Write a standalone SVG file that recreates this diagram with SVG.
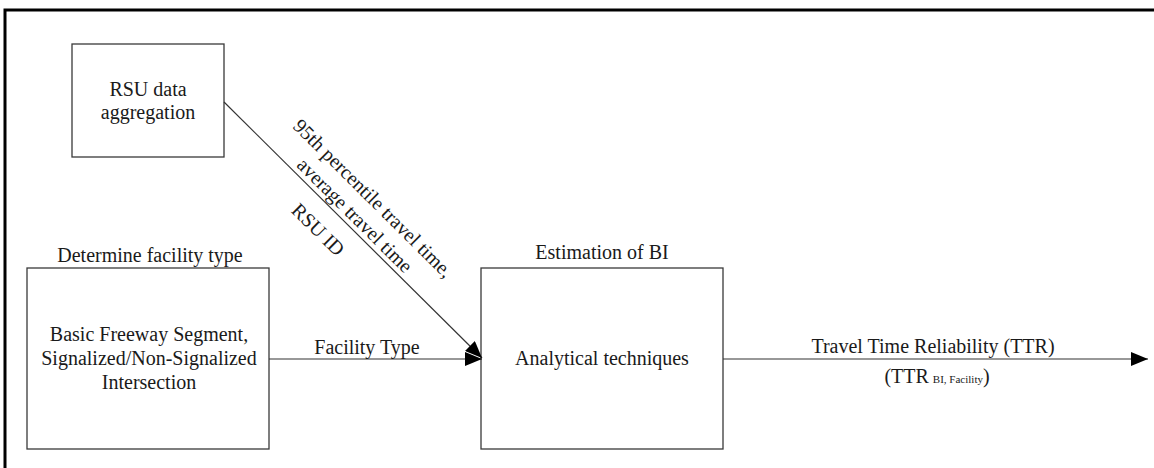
<svg xmlns="http://www.w3.org/2000/svg" width="1154" height="468" viewBox="0 0 1154 468" font-family="'Liberation Serif', 'Times New Roman', serif">
  <style>
    .box { fill: #ffffff; stroke: #3a3a3a; stroke-width: 1.3; }
    .conn { fill: none; stroke: #333333; stroke-width: 1.2; }
    text { font-family: "Liberation Serif", "Times New Roman", serif; }
    .t { font-family: "Liberation Serif", "Times New Roman", serif; font-size: 20px; fill: #1a1a1a; text-anchor: middle; }
    .sub { font-size: 11px; }
  </style>
  <defs>
    <marker id="arrow" markerUnits="userSpaceOnUse" markerWidth="18" markerHeight="14" refX="17" refY="7" orient="auto">
      <path d="M0,0 L17,7 L0,14 Z" fill="#000000"/>
    </marker>
  </defs>

  <rect x="0" y="0" width="1154" height="468" fill="#ffffff"/>
  <!-- outer frame, open to the right and bottom -->
  <path d="M5,470 L5,10 L1160,10" fill="none" stroke="#000000" stroke-width="3"/>

  <g id="node-rsu">
    <rect class="box" x="72" y="44" width="152" height="113"/>
    <text class="t" x="148" y="96">RSU data</text>
    <text class="t" x="148" y="119">aggregation</text>
  </g>

  <g id="node-facility">
    <text class="t" x="150" y="262">Determine facility type</text>
    <rect class="box" x="27" y="268" width="242" height="181"/>
    <text class="t" x="149" y="341">Basic Freeway Segment,</text>
    <text class="t" x="149" y="365">Signalized/Non-Signalized</text>
    <text class="t" x="149" y="389">Intersection</text>
  </g>

  <g id="node-bi">
    <text class="t" x="602" y="259">Estimation of BI</text>
    <rect class="box" x="481" y="268" width="242" height="181"/>
    <text class="t" x="602" y="365">Analytical techniques</text>
  </g>

  <g id="connectors">
    <line class="conn" x1="224" y1="102" x2="482" y2="358" marker-end="url(#arrow)"/>
    <line class="conn" x1="269" y1="359" x2="482" y2="359" marker-end="url(#arrow)"/>
    <line class="conn" x1="723" y1="359" x2="1148" y2="359" marker-end="url(#arrow)"/>

    <g transform="translate(353,230) rotate(44.8)">
      <text class="t" x="-8" y="-30">95th percentile travel time,</text>
      <text class="t" x="-9" y="-5">average travel time</text>
      <text class="t" x="-25" y="31">RSU ID</text>
    </g>

    <text class="t" x="367" y="354">Facility Type</text>
    <text class="t" x="933" y="353">Travel Time Reliability (TTR)</text>
    <text class="t" x="937" y="383">(TTR<tspan class="sub" dx="4">BI, Facility</tspan>)</text>
  </g>
</svg>
